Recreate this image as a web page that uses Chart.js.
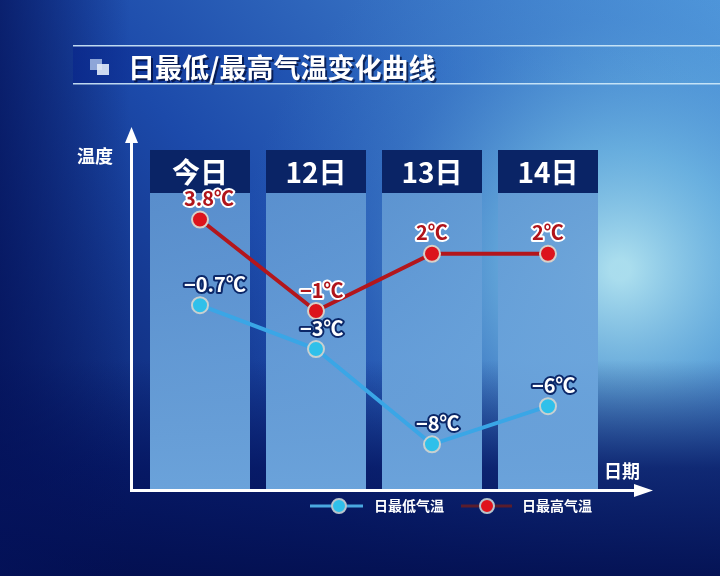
<!DOCTYPE html>
<html>
<head>
<meta charset="utf-8">
<script src="https://cdn.jsdelivr.net/npm/chart.js@4.4.1/dist/chart.umd.min.js"></script>
<style>
  html, body { margin: 0; padding: 0; background: #06186a; }
  #wrap { width: 720px; height: 576px; position: relative; }
</style>
</head>
<body>
<div id="wrap"><canvas id="c" width="720" height="576"></canvas></div>
<script>
// 日期与气温
const days = ["今日", "12日", "13日", "14日"];
const lowTemps = [-0.7, -3, -8, -6];
const highTemps = [3.8, -1, 2, 2];
const lowLabels = ["−0.7℃", "−3℃", "−8℃", "−6℃"];
const highLabels = ["3.8℃", "−1℃", "2℃", "2℃"];

const CJK = "'Noto Sans CJK SC', 'Noto Sans', sans-serif";

// 背景、标题、坐标轴、柱形底板
const backdrop = {
  id: "backdrop",
  beforeDraw(chart) {
    const ctx = chart.ctx;
    const W = chart.width, H = chart.height;
    ctx.save();
    let g = ctx.createLinearGradient(0, H, W, 0);
    g.addColorStop(0, "#051358");
    g.addColorStop(0.45, "#1c4aaa");
    g.addColorStop(1, "#4f96da");
    ctx.fillStyle = g;
    ctx.fillRect(0, 0, W, H);

    // 右上角的亮光
    let r = ctx.createRadialGradient(620, 270, 10, 620, 270, 380);
    r.addColorStop(0, "rgba(190,240,245,0.85)");
    r.addColorStop(0.3, "rgba(130,205,235,0.6)");
    r.addColorStop(0.65, "rgba(80,150,215,0.25)");
    r.addColorStop(1, "rgba(60,130,210,0)");
    ctx.fillStyle = r;
    ctx.fillRect(0, 0, W, H);

    // 底部变暗
    g = ctx.createLinearGradient(0, 360, 0, H);
    g.addColorStop(0, "rgba(4,20,95,0)");
    g.addColorStop(0.5, "rgba(4,20,95,0.8)");
    g.addColorStop(1, "rgba(3,15,80,0.95)");
    ctx.fillStyle = g;
    ctx.fillRect(0, 360, W, H - 360);

    // 左侧暗条
    g = ctx.createLinearGradient(0, 0, 130, 0);
    g.addColorStop(0, "rgba(4,18,90,0.7)");
    g.addColorStop(1, "rgba(4,18,90,0)");
    ctx.fillStyle = g;
    ctx.fillRect(0, 0, 130, H);

    // 标题条
    g = ctx.createLinearGradient(73, 0, W, 0);
    g.addColorStop(0, "rgba(10,40,140,0.8)");
    g.addColorStop(0.5, "rgba(30,90,190,0.3)");
    g.addColorStop(1, "rgba(120,200,235,0.1)");
    ctx.fillStyle = g;
    ctx.fillRect(73, 46, W - 73, 38);
    ctx.fillStyle = "rgba(210,235,250,0.9)";
    ctx.fillRect(73, 45, W - 73, 1.5);
    ctx.fillRect(73, 83, W - 73, 1.5);

    // 标题图标
    ctx.fillStyle = "#8ea6d8";
    ctx.fillRect(90, 59, 12, 11);
    ctx.fillStyle = "rgba(225,235,250,0.9)";
    ctx.fillRect(97, 64, 12, 11);

    ctx.font = "bold 27px " + CJK;
    ctx.textBaseline = "middle";
    ctx.textAlign = "left";
    ctx.fillStyle = "rgba(0,10,50,0.7)";
    ctx.fillText("日最低/最高气温变化曲线", 130, 70);
    ctx.fillStyle = "#ffffff";
    ctx.fillText("日最低/最高气温变化曲线", 128, 68);

    // 柱形底板和表头
    const xs = chart.scales.x;
    const bottom = chart.chartArea.bottom;
    for (let i = 0; i < days.length; i++) {
      const cx = xs.getPixelForValue(i);
      g = ctx.createLinearGradient(0, 193, 0, bottom);
      g.addColorStop(0, "rgba(100,155,212,0.85)");
      g.addColorStop(1, "rgba(112,170,225,0.95)");
      ctx.fillStyle = g;
      ctx.fillRect(cx - 50, 193, 100, bottom - 193);
      ctx.fillStyle = "#0a2466";
      ctx.fillRect(cx - 50, 150, 100, 43);
      ctx.font = "bold 28px " + CJK;
      ctx.textAlign = "center";
      ctx.fillStyle = "#ffffff";
      ctx.fillText(days[i], cx, 172);
    }

    // 坐标轴
    ctx.fillStyle = "#ffffff";
    ctx.fillRect(130, 140, 3, bottom - 140 + 2);
    ctx.fillRect(130, bottom - 1, 510, 3);
    ctx.beginPath();
    ctx.moveTo(131.5, 127);
    ctx.lineTo(125, 143);
    ctx.lineTo(138, 143);
    ctx.closePath();
    ctx.fill();
    ctx.beginPath();
    ctx.moveTo(653, bottom + 0.5);
    ctx.lineTo(634, bottom - 6);
    ctx.lineTo(634, bottom + 7);
    ctx.closePath();
    ctx.fill();

    ctx.font = "bold 18px " + CJK;
    ctx.textAlign = "left";
    ctx.fillText("温度", 77, 156);
    ctx.fillText("日期", 604, 471);
    ctx.restore();
  }
};

// 数值标签与图例
const labelsAndLegend = {
  id: "labelsAndLegend",
  afterDatasetsDraw(chart) {
    const ctx = chart.ctx;
    ctx.save();
    ctx.font = "bold 20px " + CJK;
    ctx.textBaseline = "middle";
    ctx.textAlign = "left";
    ctx.lineJoin = "round";
    const sets = [
      { idx: 0, texts: lowLabels, fill: "#ffffff", stroke: "#0b2768" },
      { idx: 1, texts: highLabels, fill: "#b0141a", stroke: "#ffffff" }
    ];
    sets.forEach((s) => {
      chart.getDatasetMeta(s.idx).data.forEach((pt, i) => {
        const x = pt.x - 16, y = pt.y - 21;
        ctx.lineWidth = 4;
        ctx.strokeStyle = s.stroke;
        ctx.strokeText(s.texts[i], x, y);
        ctx.fillStyle = s.fill;
        ctx.fillText(s.texts[i], x, y);
      });
    });

    // 图例
    const items = [
      { x0: 310, cx: 339, x1: 363, line: "#4aa8e0", dot: "#2fc0ea", tx: 374, text: "日最低气温" },
      { x0: 461, cx: 487, x1: 512, line: "#5a1d2c", dot: "#e0141c", tx: 522, text: "日最高气温" }
    ];
    items.forEach((it) => {
      ctx.strokeStyle = it.line;
      ctx.lineWidth = 3;
      ctx.beginPath();
      ctx.moveTo(it.x0, 506);
      ctx.lineTo(it.x1, 506);
      ctx.stroke();
      ctx.beginPath();
      ctx.arc(it.cx, 506, 7, 0, Math.PI * 2);
      ctx.fillStyle = it.dot;
      ctx.fill();
      ctx.lineWidth = 2;
      ctx.strokeStyle = "#b8c4cc";
      ctx.stroke();
      ctx.font = "bold 14px " + CJK;
      ctx.fillStyle = "#ffffff";
      ctx.fillText(it.text, it.tx, 506);
    });
    ctx.restore();
  }
};

new Chart(document.getElementById("c"), {
  type: "line",
  data: {
    labels: days,
    datasets: [
      {
        label: "日最低气温",
        data: lowTemps,
        borderColor: "#3aa6e6",
        borderWidth: 4,
        pointRadius: 8,
        pointBackgroundColor: "#2fc0ea",
        pointBorderColor: "#c8d0d0",
        pointBorderWidth: 2,
        tension: 0
      },
      {
        label: "日最高气温",
        data: highTemps,
        borderColor: "#b3161c",
        borderWidth: 4,
        pointRadius: 8,
        pointBackgroundColor: "#dc141c",
        pointBorderColor: "#d8d0c8",
        pointBorderWidth: 2,
        tension: 0
      }
    ]
  },
  options: {
    responsive: false,
    animation: false,
    devicePixelRatio: 1,
    layout: { padding: { left: 142, right: 114, top: 130, bottom: 86 } },
    plugins: { legend: { display: false }, tooltip: { enabled: false } },
    scales: {
      x: { display: false, offset: true },
      y: { display: false, min: -10.4, max: 8.5 }
    }
  },
  plugins: [backdrop, labelsAndLegend]
});
</script>
</body>
</html>
